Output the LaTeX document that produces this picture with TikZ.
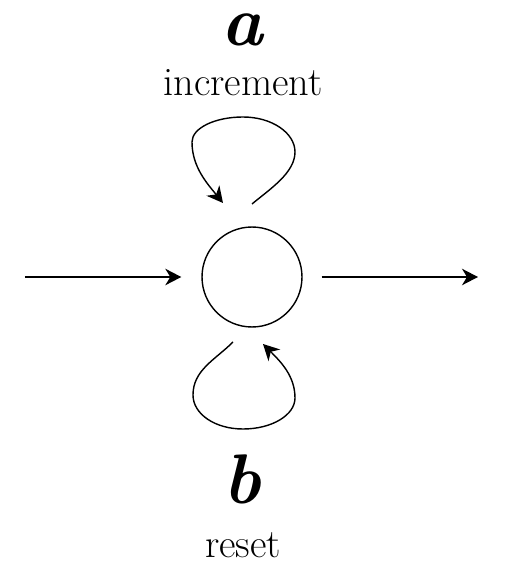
\documentclass[tikz,border=0pt]{standalone}
\usepackage{fontspec}
\usepackage{tikz}
\usetikzlibrary{arrows.meta,positioning}

\begin{document}
\begin{tikzpicture}[
  x=0.02cm,y=0.02cm,
  line width=0.8pt,
  counter/.style={draw,circle,minimum size=2cm,inner sep=0pt},
  flow/.style={-{Stealth[length=3.2mm,width=3.3mm,inset=1mm]}},
  sym label/.style={font=\fontsize{40}{44}\selectfont\bfseries\itshape,inner sep=0pt,anchor=base},
  act label/.style={font=\fontsize{23}{27}\selectfont,inner sep=0pt,anchor=base}
]
\useasboundingbox (-252,-294) rectangle (255,277);
\node[counter] (q) at (0,0) {};
\coordinate (src) at (-227,0);
\coordinate (dst) at (226,0);
\draw[flow,shorten >=0.4cm] (src) -- (q);
\draw[flow,shorten <=0.38cm] (q) -- (dst);
% loop above
\coordinate (ta) at (0,73);
\coordinate (tr) at (43,125);
\coordinate (tt) at (-9,160);
\coordinate (tl) at (-60,135);
\coordinate (tb) at (-29,74);
\draw[flow] (ta) .. controls +(40:23) and +(-90:21) .. (tr)
  .. controls +(90:19) and +(0:29) .. (tt)
  .. controls +(180:28) and +(90:14) .. (tl)
  .. controls +(-90:25) and +(129:25) .. (tb);
% loop below
\coordinate (ba) at (-19,-65);
\coordinate (bl) at (-59,-118);
\coordinate (bt) at (-9,-152);
\coordinate (br) at (43,-121);
\coordinate (bb) at (11,-67);
\draw[flow] (ba) .. controls +(225:25) and +(90:25) .. (bl)
  .. controls +(-90:19) and +(180:28) .. (bt)
  .. controls +(0:29) and +(-90:17) .. (br)
  .. controls +(90:22) and +(-45:25) .. (bb);
\node[sym label] (a) at (-10,231) {a};
\node[act label] (inc) at (-9,181) {increment};
\node[sym label] (b) at (-10,-226) {b};
\node[act label] (rst) at (-9,-280) {reset};
\end{tikzpicture}
\end{document}
